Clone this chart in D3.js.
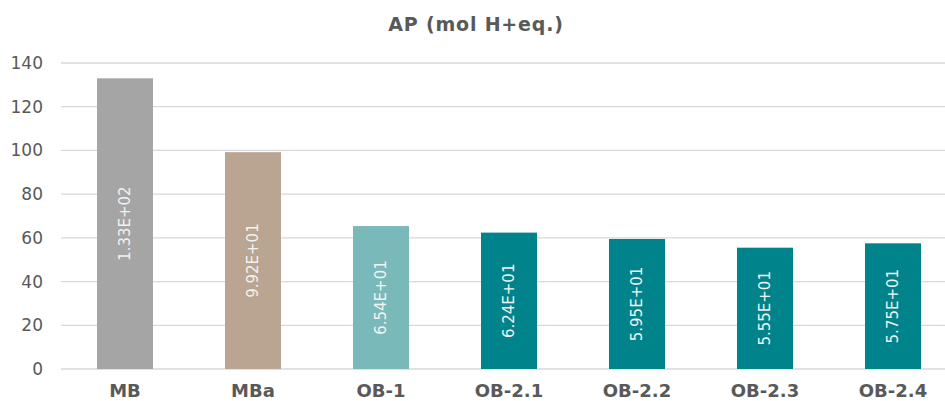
<!DOCTYPE html>
<html>
<head>
<meta charset="utf-8">
<script src="https://cdn.jsdelivr.net/npm/d3@7"></script>
<style>
  html, body { margin: 0; padding: 0; background: #fff; }
  svg { display: block; font-family: "DejaVu Sans", Verdana, sans-serif; }
</style>
</head>
<body>
<svg id="chart" width="945" height="401"></svg>
<script>
const categories = ["MB", "MBa", "OB-1", "OB-2.1", "OB-2.2", "OB-2.3", "OB-2.4"];
const values = [133, 99.2, 65.4, 62.4, 59.5, 55.5, 57.5];
const valueLabels = ["1.33E+02", "9.92E+01", "6.54E+01", "6.24E+01", "5.95E+01", "5.55E+01", "5.75E+01"];
const barColors = ["#A5A5A5", "#B9A591", "#7AB9BA", "#00838A", "#00838A", "#00838A", "#00838A"];
const yTicks = [0, 20, 40, 60, 80, 100, 120, 140];
const title = "AP (mol H+eq.)";

(function () {
const svg = d3.select("#chart");
const plotLeft = 61, plotRight = 957, plotTop = 63, plotBottom = 369;

const x = d3.scaleBand().domain(categories).range([plotLeft, plotRight])
  .paddingInner(0.5625).paddingOuter(0.28125);
const y = d3.scaleLinear().domain([0, 140]).range([plotBottom, plotTop]);

// gridlines
svg.append("g").selectAll("line").data(yTicks).join("line")
  .attr("x1", plotLeft).attr("x2", 945)
  .attr("y1", d => y(d)).attr("y2", d => y(d))
  .attr("stroke", "#d9d9d9").attr("stroke-width", 1.3);

// y axis labels
const yAxis = d3.axisLeft(y).tickValues(yTicks).tickSize(0).tickPadding(0);
const gy = svg.append("g").attr("transform", `translate(43,0)`).call(yAxis);
gy.select(".domain").remove();
gy.selectAll("text").attr("font-size", 17).attr("fill", "#595959")
  .attr("font-family", "'DejaVu Sans', Verdana, sans-serif");

// bars
const data = categories.map((c, i) => ({c, v: values[i], l: valueLabels[i], col: barColors[i]}));
svg.append("g").selectAll("rect").data(data).join("rect")
  .attr("x", d => x(d.c)).attr("width", x.bandwidth())
  .attr("y", d => y(d.v)).attr("height", d => y(0) - y(d.v))
  .attr("fill", d => d.col);

// value labels
svg.append("g").selectAll("text").data(data).join("text")
  .attr("transform", d => `translate(${x(d.c) + x.bandwidth() / 2},${(y(d.v) + y(0)) / 2}) rotate(-90)`)
  .attr("text-anchor", "middle").attr("dy", "0.35em")
  .attr("font-size", 15).attr("fill", "#f2f2f2")
  .text(d => d.l);

// x axis labels
const xAxis = d3.axisBottom(x).tickSize(0).tickPadding(0);
const gx = svg.append("g").attr("transform", `translate(0,${plotBottom})`).call(xAxis);
gx.select(".domain").remove();
gx.selectAll("text").attr("font-size", 18).attr("font-weight", "bold").attr("fill", "#595959")
  .attr("font-family", "'DejaVu Sans', Verdana, sans-serif")
  .attr("dy", null).attr("y", 27.5);

// title
svg.append("text").attr("x", 476).attr("y", 31)
  .attr("text-anchor", "middle").attr("font-size", 19).attr("font-weight", "bold")
  .attr("letter-spacing", 0.8)
  .attr("fill", "#595959").text(title);
})();
</script>
</body>
</html>
